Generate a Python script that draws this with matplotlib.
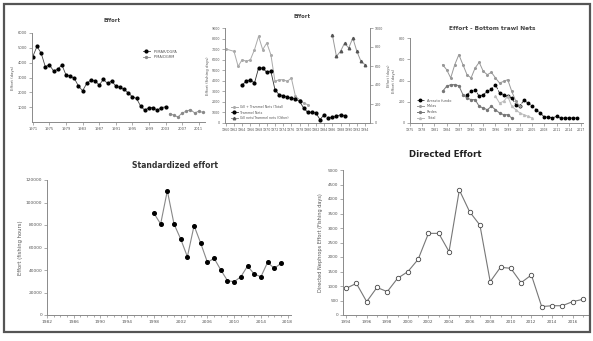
import matplotlib
matplotlib.use("Agg")
import matplotlib.pyplot as plt
from matplotlib.patches import Rectangle

W, H = 593, 341

# ---------------- data ----------------
# Panel 1: Effort
p1_years_a = list(range(1971, 2004))
p1_vals_a = [4415, 5094, 4642, 3736, 3849, 3442, 3555, 3849, 3170, 3102, 2943, 2423,
             2106, 2604, 2830, 2785, 2491, 2875, 2604, 2762, 2423, 2332, 2196, 1970,
             1698, 1585, 1064, 792, 974, 974, 792, 974, 1019]
p1_years_b = list(range(2004, 2013))
p1_vals_b = [566, 453, 340, 611, 725, 838, 611, 725, 650]
p1_labels = ["IPIMAR/DGPA", "IPMA/DGRM"]

# Panel 2: Effort (two axes)
p2_years_total = [1960] + list(range(1962, 1981))
p2_vals_total = [7010, 6790, 5370, 6000, 5840, 6000, 6950, 8210, 6950, 7580, 6470,
                 3950, 4100, 4100, 3950, 4260, 2530, 2210, 1890, 1740]
p2_years_tr = list(range(1964, 1985))
p2_vals_tr = [3630, 3950, 4100, 3790, 5210, 5210, 4800, 4890, 3160, 2680, 2590, 2460,
              2370, 2270, 2050, 1420, 1010, 1010, 950, 320, 790]
p2_years_tr2 = list(range(1985, 1990))
p2_vals_tr2 = [470, 540, 630, 790, 690]
p2_years_right = list(range(1986, 1995))
p2_vals_right = [930, 702, 754, 842, 789, 895, 754, 649, 614]
p2_labels = ["Gill + Trammel Nets (Total)", "Trammel Nets", "Gill nets/Trammel nets (Other)"]

# Panel 3: Effort - Bottom trawl nets
p3_years_a = list(range(1989, 2017))
p3_vals_a = [267, 298, 314, 251, 267, 298, 320, 361, 282, 267, 251, 235, 173, 163, 213,
             188, 157, 125, 94, 56, 56, 47, 63, 47, 47, 47, 47, 47]
p3_years_b = list(range(1983, 2003))
p3_vals_b = [549, 502, 424, 549, 643, 549, 455, 424, 518, 571, 486, 455, 477, 424, 376,
             392, 408, 298, 204, 157]
p3_years_c = list(range(1983, 2001))
p3_vals_c = [298, 345, 361, 361, 351, 267, 235, 220, 220, 157, 141, 125, 157, 125, 94,
             78, 78, 47]
p3_years_d = list(range(1996, 2006))
p3_vals_d = [251, 188, 204, 251, 157, 125, 94, 78, 63, 47]
p3_labels = ["Arrasto fundo", "Molas", "Redes", "Total"]

# Panel 4: Standardized effort
p4_years = list(range(1998, 2018))
p4_vals = [90400, 80900, 110500, 80900, 67500, 51800, 79400, 63700, 46800, 50400,
           40000, 30500, 29600, 34000, 43500, 36400, 34000, 46800, 41500, 45900]

# Panel 5: Directed Effort
p5_years = list(range(1994, 2018))
p5_vals = [920, 1090, 460, 950, 805, 1265, 1495, 1920, 2815, 2815, 2185, 4310, 3560,
           3100, 1150, 1645, 1610, 1115, 1380, 290, 320, 320, 460, 540]

# ---------------- figure ----------------
fig = plt.figure(figsize=(W / 100, H / 100), dpi=100)
fig.patch.set_facecolor("white")
fig.patches.append(Rectangle((4 / W, 1 - 332 / H), 586 / W, 328 / H, transform=fig.transFigure,
                             fill=False, edgecolor="#555555", linewidth=1.6))

GREY = "#8a8a8a"


def ax_px(l, t, r, b):
    return fig.add_axes([l / W, 1 - b / H, (r - l) / W, (b - t) / H])


def style(ax, fs):
    for s in ["top", "right"]:
        ax.spines[s].set_visible(False)
    for s in ["left", "bottom"]:
        ax.spines[s].set_color(GREY)
        ax.spines[s].set_linewidth(0.7)
    ax.tick_params(labelsize=fs, colors=GREY, length=2, width=0.5, pad=1.5, labelcolor="#555555")


def title(x, y, s, fs, color="#333333"):
    fig.text(x / W, 1 - y / H, s, ha="center", va="center", fontsize=fs, fontweight="bold", color=color)


# Panel 1
ax1 = ax_px(32, 33, 205, 122)
style(ax1, 2.6)
ax1.plot(p1_years_a, p1_vals_a, color="#444444", lw=0.6, marker="o", ms=2, mfc="black", mec="black",
         label=p1_labels[0])
ax1.plot(p1_years_b, p1_vals_b, color=GREY, lw=0.6, marker="o", ms=1.4, mfc=GREY, mec=GREY,
         label=p1_labels[1])
ax1.set_xlim(1970.8, 2012.5)
ax1.set_ylim(0, 6000)
ax1.set_xticks(range(1971, 2012, 4))
ax1.set_yticks(range(1000, 6001, 1000))
ax1.set_ylabel("Effort (days)", fontsize=2.8, color="#555555", labelpad=2)
ax1.legend(loc="upper left", bbox_to_anchor=(0.62, 0.85), fontsize=2.6, frameon=False,
           handlelength=2.2, labelcolor="#555555")
title(112, 21, "Effort", 3.8, "#444444")

# Panel 2
ax2 = ax_px(225, 28, 370, 123)
style(ax2, 2.3)
ax2.plot(p2_years_total, p2_vals_total, color="#aaaaaa", lw=0.7, marker="o", ms=1.2, mfc="white",
         mec="#aaaaaa", label=p2_labels[0])
ax2.plot(p2_years_tr, p2_vals_tr, color="#333333", lw=0.6, marker="o", ms=2, mfc="black", mec="black",
         label=p2_labels[1])
ax2.plot(p2_years_tr2, p2_vals_tr2, color="#333333", lw=0.6, marker="o", ms=2, mfc="black", mec="black")
ax2.set_xlim(1959.8, 1995.2)
ax2.set_ylim(0, 9000)
ax2.set_xticks(range(1960, 1995, 2))
ax2.set_yticks(range(0, 9001, 1000))
ax2.set_ylabel("Effort (fishing days)", fontsize=2.8, color="#555555", labelpad=1.5)
ax2r = ax2.twinx()
ax2r.plot(p2_years_right, p2_vals_right, color="#999999", lw=0.7, marker="^", ms=1.8, mfc="#555555",
          mec="#555555", label=p2_labels[2])
ax2r.set_ylim(0, 1000)
ax2r.set_yticks(range(0, 1001, 200))
for s in ["top", "left", "bottom"]:
    ax2r.spines[s].set_visible(False)
ax2r.spines["right"].set_color(GREY)
ax2r.spines["right"].set_linewidth(0.7)
ax2r.tick_params(labelsize=2.3, colors=GREY, length=2, width=0.5, pad=1.5, labelcolor="#555555")
ax2r.set_ylabel("Effort (days)", fontsize=2.6, color="#555555", labelpad=3)
h1, l1 = ax2.get_legend_handles_labels()
h2, l2 = ax2r.get_legend_handles_labels()
ax2.legend(h1 + h2, l1 + l2, loc="lower left", bbox_to_anchor=(0.02, 0.0), fontsize=2.3, frameon=False,
           handlelength=2.2, labelcolor="#555555")
title(302, 16, "Effort", 3.8, "#444444")

# Panel 3
ax3 = ax_px(410, 38, 583, 123)
style(ax3, 2.3)
ax3.plot(p3_years_a, p3_vals_a, color="#333333", lw=0.6, ls="--", marker="o", ms=1.8, mfc="black",
         mec="black", label=p3_labels[0])
ax3.plot(p3_years_b, p3_vals_b, color="#999999", lw=0.7, marker="o", ms=1.2, mfc="white",
         mec="#999999", label=p3_labels[1])
ax3.plot(p3_years_c, p3_vals_c, color="#777777", lw=0.7, marker="o", ms=1.4, mfc="#777777",
         mec="#777777", label=p3_labels[2])
ax3.plot(p3_years_d, p3_vals_d, color="#bbbbbb", lw=0.7, marker="^", ms=1.4, mfc="#bbbbbb",
         mec="#bbbbbb", label=p3_labels[3])
ax3.set_xlim(1975, 2017.5)
ax3.set_ylim(0, 800)
ax3.set_xticks(range(1975, 2018, 3))
ax3.set_yticks(range(0, 801, 200))
ax3.set_ylabel("Effort (days)", fontsize=2.8, color="#555555", labelpad=2)
ax3.legend(loc="lower left", bbox_to_anchor=(0.02, 0.0), fontsize=2.5, frameon=False,
           handlelength=2.2, labelcolor="#555555")
title(492, 29, "Effort - Bottom trawl Nets", 4.2, "#444444")

# Panel 4
ax4 = ax_px(47, 180, 291, 315)
style(ax4, 3.2)
ax4.plot(p4_years, p4_vals, color="#888888", lw=0.8, marker="o", ms=2.6, mfc="black", mec="black")
ax4.set_xlim(1982, 2018.5)
ax4.set_ylim(0, 120000)
ax4.set_xticks(range(1982, 2019, 4))
ax4.set_xticks(range(1982, 2019, 1), minor=True)
ax4.tick_params(which="minor", length=1.5, width=0.5, colors=GREY)
ax4.set_yticks(range(0, 120001, 20000))
ax4.set_ylabel("Effort (fishing hours)", fontsize=3.8, color="#555555", labelpad=2)
title(175, 165, "Standardized effort", 5.6)

# Panel 5
ax5 = ax_px(343, 170, 588, 315)
style(ax5, 3.0)
ax5.plot(p5_years, p5_vals, color="#777777", lw=0.8, marker="o", ms=3.2, mfc="white", mec="#444444",
         mew=0.6)
ax5.set_xlim(1993.7, 2017.5)
ax5.set_ylim(0, 5000)
ax5.set_xticks(range(1994, 2017, 2))
ax5.set_xticks(range(1994, 2018, 1), minor=True)
ax5.tick_params(which="minor", length=1.5, width=0.5, colors=GREY)
ax5.set_yticks(range(0, 5001, 500))
ax5.set_ylabel("Directed Nephrops Effort (Fishing days)", fontsize=3.6, color="#555555", labelpad=3)
title(445, 154, "Directed Effort", 6.2, "#222222")

fig.savefig("out.png", dpi=100, facecolor="white")
